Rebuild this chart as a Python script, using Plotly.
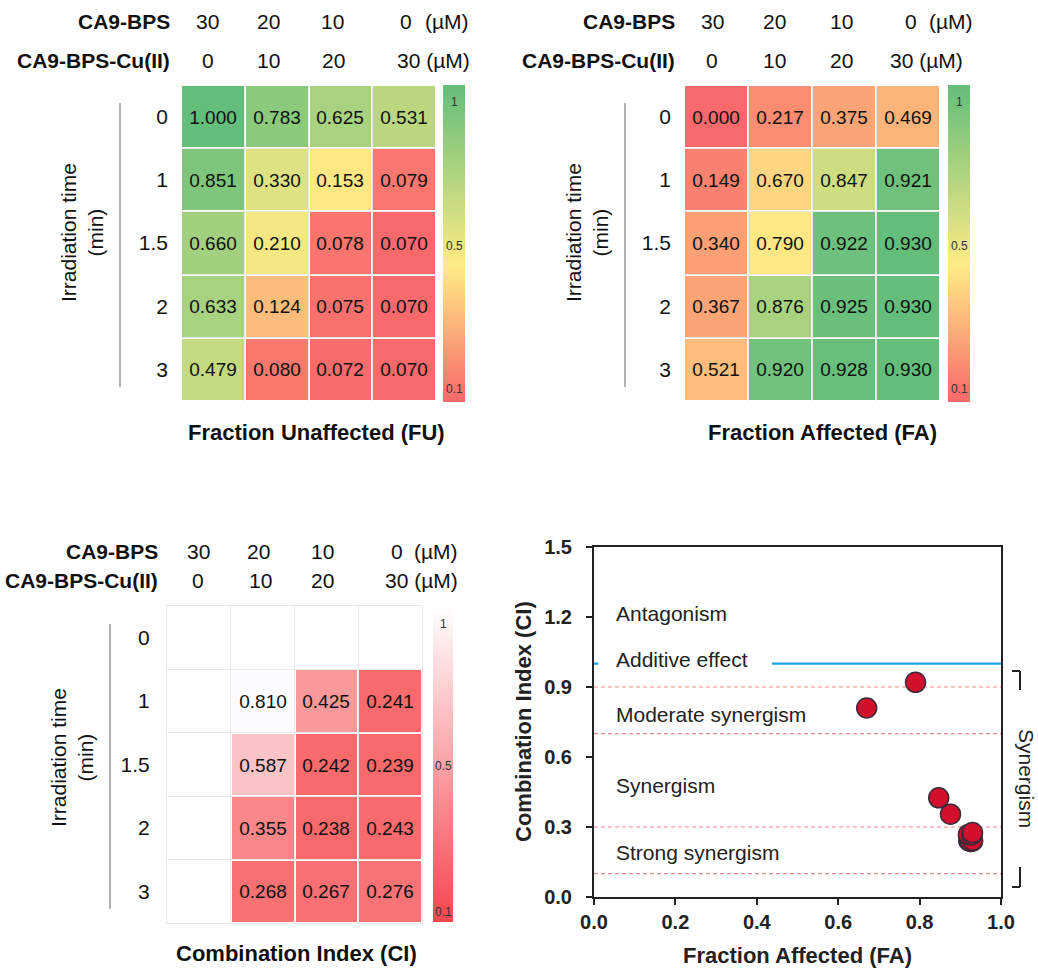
import numpy as np
import plotly.graph_objects as go

W, H = 1038, 969
FONT = "Liberation Sans, Arial, sans-serif"

# ---------------- data ----------------
IRR_LABELS = ["0", "1", "1.5", "2", "3"]
BPS_CONC = ["30", "20", "10", "0"]
CU_CONC = ["0", "10", "20", "30"]

FU = [[1.000, 0.783, 0.625, 0.531],
      [0.851, 0.330, 0.153, 0.079],
      [0.660, 0.210, 0.078, 0.070],
      [0.633, 0.124, 0.075, 0.070],
      [0.479, 0.080, 0.072, 0.070]]

FA = [[0.000, 0.217, 0.375, 0.469],
      [0.149, 0.670, 0.847, 0.921],
      [0.340, 0.790, 0.922, 0.930],
      [0.367, 0.876, 0.925, 0.930],
      [0.521, 0.920, 0.928, 0.930]]

CI = [[None, None, None, None],
      [None, 0.810, 0.425, 0.241],
      [None, 0.587, 0.242, 0.239],
      [None, 0.355, 0.238, 0.243],
      [None, 0.268, 0.267, 0.276]]

SCAT_FA = [0.670, 0.790, 0.847, 0.876, 0.921, 0.922, 0.930, 0.925, 0.930, 0.920, 0.928, 0.930]
SCAT_CI = [0.810, 0.920, 0.425, 0.355, 0.241, 0.242, 0.239, 0.238, 0.243, 0.268, 0.267, 0.276]

REGIONS = ["Antagonism", "Additive effect", "Moderate synergism", "Synergism", "Strong synergism"]
REGION_Y = [1.217, 1.02, 0.783, 0.478, 0.192]
CI_LIMITS = [0.9, 0.7, 0.3, 0.1]
CI_ADDITIVE = 1.0

FU_MID = 0.155   # value drawn in yellow
FA_MID = 0.81

RED, YEL, GRN = "#F8696B", "#FFEB84", "#63BE7B"
WHITE = "#FCFCFF"


def px(x):
    return x / W


def py(y):
    return 1 - y / H


def three_scale(z, mid):
    a = np.array(z, dtype=float)
    lo, hi = np.nanmin(a), np.nanmax(a)
    f = (mid - lo) / (hi - lo)
    return [[0, RED], [f, YEL], [1, GRN]], lo, hi


def txt(z):
    return [["" if v is None else f"{v:.3f}" for v in row] for row in z]


fig = go.Figure()

GRID = "#e9e9e9"
panels = [
    ("", FU, "fu", (181, 436, 85, 401)),
    ("2", FA, "fa", (684, 940, 85, 401)),
    ("3", CI, "ci", (167, 422, 606, 923)),
]

for suf, z, kind, (x0, x1, y0, y1) in panels:
    if kind == "fu":
        cs, lo, hi = three_scale(z, FU_MID)
    elif kind == "fa":
        cs, lo, hi = three_scale(z, FA_MID)
    else:
        a = np.array([[np.nan if v is None else v for v in r] for r in z])
        lo, hi = np.nanmin(a), np.nanmax(a)
        cs = [[0, RED], [1, WHITE]]
    fig.add_trace(go.Heatmap(
        z=z, x=[0, 1, 2, 3], y=[0, 1, 2, 3, 4],
        text=txt(z), texttemplate="%{text}",
        textfont=dict(family=FONT, size=19, color="#111"),
        colorscale=cs, zmin=lo, zmax=hi, showscale=False,
        xgap=2, ygap=2, hoverinfo="skip",
        xaxis="x" + suf, yaxis="y" + suf))
    fig.update_layout(**{
        "xaxis" + suf: dict(domain=[px(x0), px(x1)], range=[-0.5, 3.5],
                            showticklabels=False, ticks="", showgrid=False,
                            zeroline=False, anchor="y" + suf, automargin=False,
                            showline=(kind == "ci"), mirror=True, linecolor=GRID, linewidth=1,
                            minor=dict(tickvals=[-0.5, 0.5, 1.5, 2.5, 3.5], showgrid=True,
                                       gridcolor=GRID, gridwidth=1, ticks="")),
        "yaxis" + suf: dict(domain=[py(y1), py(y0)], range=[4.5, -0.5],
                            tickvals=[0, 1, 2, 3, 4], ticktext=IRR_LABELS,
                            tickfont=dict(family=FONT, size=21, color="#111"),
                            ticks="", ticklabelstandoff=12, showgrid=False,
                            zeroline=False, anchor="x" + suf, automargin=False,
                            showline=(kind == "ci"), mirror=True, linecolor=GRID, linewidth=1,
                            minor=dict(tickvals=[-0.5, 0.5, 1.5, 2.5, 3.5, 4.5], showgrid=True,
                                       gridcolor=GRID, gridwidth=1, ticks="")),
    })

# decorative colour bars
cbars = [
    ("", [[0, RED], [0.426, YEL], [1, GRN]], 442.7, 22, 85, 401.5),
    ("2", [[0, RED], [0.426, YEL], [1, GRN]], 947.5, 22, 85, 401.5),
    ("3", [[0, "#F5464E"], [1, "#FFFFFF"]], 433, 20, 606, 922),
]
for suf, cs, cx, th, cy0, cy1 in cbars:
    fig.add_trace(go.Scatter(
        x=[None], y=[None], mode="markers", showlegend=False, hoverinfo="skip",
        marker=dict(color=[0.5], cmin=0, cmax=1, colorscale=cs, showscale=True,
                    colorbar=dict(x=px(cx), xanchor="left", xpad=0, ypad=0,
                                  y=py(cy0), yanchor="top", len=cy1 - cy0, lenmode="pixels",
                                  thickness=th, thicknessmode="pixels", outlinewidth=0,
                                  showticklabels=False, ticks="")),
        xaxis="x" + suf, yaxis="y" + suf))

# scatter panel
SX0, SX1, SY0, SY1 = 594, 1001, 547, 897
fig.add_trace(go.Scatter(
    x=SCAT_FA, y=SCAT_CI, mode="markers", showlegend=False,
    marker=dict(size=20, color="#D3102C", line=dict(color="#3A2A3A", width=1.5)),
    xaxis="x4", yaxis="y4", cliponaxis=False))

fig.update_layout(
    xaxis4=dict(domain=[px(SX0), px(SX1)], range=[0, 1], dtick=0.2, tickformat=".1f",
                showline=True, mirror=True, linewidth=2, linecolor="#222",
                ticks="outside", ticklen=6, tickwidth=2, tickcolor="#222",
                tickfont=dict(family=FONT, size=20, color="#222", weight="bold"),
                showgrid=False, zeroline=False, anchor="y4", automargin=False),
    yaxis4=dict(domain=[py(SY1), py(SY0)], range=[0, 1.5], dtick=0.3, tickformat=".1f",
                showline=True, mirror=True, linewidth=2, linecolor="#222",
                ticks="outside", ticklen=6, tickwidth=2, tickcolor="#222",
                ticklabelstandoff=10,
                tickfont=dict(family=FONT, size=20, color="#222", weight="bold"),
                showgrid=False, zeroline=False, anchor="x4", automargin=False),
)

shapes = []
for v in CI_LIMITS:
    shapes.append(dict(type="line", xref="x4", yref="y4", x0=0, x1=1, y0=v, y1=v,
                       line=dict(color="#F28A8A", width=1.2, dash="4px,3px"), layer="below"))
shapes.append(dict(type="line", xref="x4", yref="y4", x0=0, x1=1, y0=CI_ADDITIVE, y1=CI_ADDITIVE,
                   line=dict(color="#1AA7E0", width=2.2), layer="below"))
shapes.append(dict(type="rect", xref="x4", yref="y4", x0=0.011, x1=0.4375, y0=0.94, y1=1.11,
                   fillcolor="white", line=dict(width=0), layer="below"))

# vertical grey rules beside heatmaps
for lx, ly0, ly1 in [(120, 103, 387), (625, 103, 387), (110, 624, 909)]:
    shapes.append(dict(type="line", xref="paper", yref="paper", x0=px(lx), x1=px(lx),
                       y0=py(ly0), y1=py(ly1), line=dict(color="#9a9a9a", width=1.5)))

# synergism bracket
for seg in [((1012, 671), (1020, 671)), ((1020, 671), (1020, 690)),
            ((1020, 867), (1020, 887)), ((1012, 887), (1020, 887))]:
    (a, b), (c, d) = seg
    shapes.append(dict(type="line", xref="paper", yref="paper", x0=px(a), x1=px(c),
                       y0=py(b), y1=py(d), line=dict(color="#222", width=2)))

ann = []


def A(x, y, text, size=21, bold=False, xanchor="center", angle=0, color="#111"):
    ann.append(dict(x=px(x), y=py(y), xref="paper", yref="paper", text=text,
                    showarrow=False, xanchor=xanchor, yanchor="middle", textangle=angle,
                    font=dict(family=FONT, size=size, color=color,
                              weight="bold" if bold else "normal")))


# headers
headers = [
    (22, 60, 172, [207, 268, 332, 406], [208, 269, 333], 423, 395),
    (22, 60, 677, [712, 774, 841, 911], [712, 774, 841], 927, 888),
    (551, 580, 160, [198, 258, 322, 397], [198, 260, 322], 412, 383),
]
for r1, r2, le, c1, c2, u1, u2 in headers:
    A(le, r1, "CA9-BPS", bold=True, xanchor="right")
    A(le, r2, "CA9-BPS-Cu(II)", bold=True, xanchor="right")
    for i in range(3):
        A(c1[i], r1, BPS_CONC[i])
        A(c2[i], r2, CU_CONC[i])
    A(c1[3], r1, BPS_CONC[3])
    A(u1, r1, "(µM)", xanchor="left")
    A(u2, r2, CU_CONC[3] + " (µM)", xanchor="left")

# rotated y titles
A(82, 233, "Irradiation time<br>(min)", size=21, angle=-90)
A(587, 233, "Irradiation time<br>(min)", size=21, angle=-90)
A(72, 757, "Irradiation time<br>(min)", size=21, angle=-90)

# panel titles
A(316, 432, "Fraction Unaffected (FU)", size=22, bold=True)
A(822, 432, "Fraction Affected (FA)", size=22, bold=True)
A(296, 953, "Combination Index (CI)", size=22, bold=True)

# colour bar labels
for cx, ys in [(454, (102, 246, 389)), (959, (102, 246, 389)), (443, (624, 766, 912))]:
    for yy, t in zip(ys, ["1", "0.5", "0.1"]):
        A(cx, yy, t, size=12, color="#333")

# scatter axis titles
A(797, 955, "Fraction Affected (FA)", size=22, bold=True, color="#222")
A(523, 722, "Combination Index (CI)", size=22, bold=True, angle=-90, color="#222")
A(1027, 778, "Synergism", size=21, angle=90, color="#222")

for t, yv in zip(REGIONS, REGION_Y):
    ann.append(dict(x=0.048, y=yv, xref="x4", yref="y4", text=t, showarrow=False,
                    xanchor="left", yanchor="middle",
                    font=dict(family=FONT, size=21, color="#222")))

fig.update_layout(
    width=W, height=H, margin=dict(l=0, r=0, t=0, b=0, autoexpand=False),
    paper_bgcolor="white", plot_bgcolor="white",
    shapes=shapes, annotations=ann, showlegend=False,
    font=dict(family=FONT),
)

fig.write_html("out.html")
